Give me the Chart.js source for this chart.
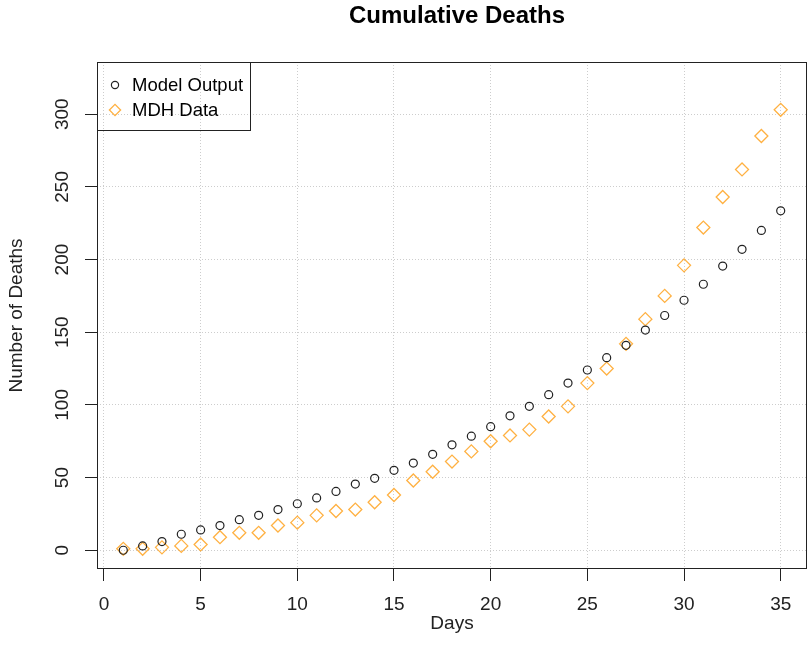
<!DOCTYPE html>
<html>
<head>
<meta charset="utf-8">
<title>Cumulative Deaths</title>
<script src="https://cdn.jsdelivr.net/npm/chart.js@4.4.1/dist/chart.umd.min.js"></script>
<style>
  html, body { margin: 0; padding: 0; background: #fff; }
  canvas { display: block; }
</style>
</head>
<body>
<canvas id="deaths" width="807" height="664"></canvas>
<script>
// Data
const days = [1, 2, 3, 4, 5, 6, 7, 8, 9, 10, 11, 12, 13, 14, 15, 16, 17, 18,
  19, 20, 21, 22, 23, 24, 25, 26, 27, 28, 29, 30, 31, 32, 33, 34, 35];
const modelOutput = [0, 3, 6, 11, 14, 17, 21, 24, 28, 32, 36, 40.5, 45.5, 49.5,
  55, 60, 66, 72.5, 78.5, 85, 92.5, 99, 107, 115, 124, 132.5, 141, 151.5,
  161.5, 172, 183, 195.5, 207, 220, 233.5];
const mdhData = [1, 1, 2, 3, 4, 9, 12, 12, 17, 19, 24, 27, 28, 33, 38, 48, 54,
  61, 68, 75, 79, 83, 92, 99, 115, 125, 142, 159, 175, 196, 222, 243, 262,
  285, 303];
const xTicks = [0, 5, 10, 15, 20, 25, 30, 35];
const yTicks = [0, 50, 100, 150, 200, 250, 300];

const FONT = '"Liberation Sans", Arial, sans-serif';
const INK = '#222';
const ORANGE = '#FFB142';
const GRID = '#cdcdcd';

// box around the plot, title and the legend (R-style base graphics look)
const rDecor = {
  id: 'rDecor',
  afterDraw(chart) {
    const { ctx, chartArea: a } = chart;
    ctx.save();
    ctx.strokeStyle = INK;
    ctx.lineWidth = 1;
    ctx.strokeRect(a.left + 0.5, a.top + 0.5, a.right - a.left - 1, a.bottom - a.top - 1);

    // title
    ctx.fillStyle = '#000';
    ctx.font = 'bold 24px ' + FONT;
    ctx.textAlign = 'center';
    ctx.textBaseline = 'middle';
    ctx.fillText('Cumulative Deaths', (a.left + a.right) / 2 + 5, 16);

    // legend
    const lx = a.left, ly = a.top;
    ctx.strokeRect(lx + 0.5, ly + 0.5, 153, 68);
    ctx.font = '18.5px ' + FONT;
    ctx.textAlign = 'left';
    chart.data.datasets.forEach((ds, i) => {
      const cy = ly + 23 + i * 25;
      ctx.strokeStyle = ds.borderColor;
      ctx.fillStyle = 'rgba(0,0,0,0)';
      ctx.lineWidth = ds.borderWidth;
      Chart.helpers.drawPoint(ctx, {
        pointStyle: ds.pointStyle,
        radius: i === 0 ? 3.6 : 5.6,
        rotation: 0,
        borderWidth: ds.borderWidth
      }, lx + 18, cy);
      ctx.fillStyle = '#000';
      ctx.fillText(ds.label, lx + 35, cy + 1);
    });
    ctx.restore();
  }
};

new Chart(document.getElementById('deaths'), {
  type: 'scatter',
  data: {
    datasets: [
      {
        label: 'Model Output',
        data: days.map((d, i) => ({ x: d, y: modelOutput[i] })),
        pointStyle: 'circle',
        pointRadius: 4,
        borderColor: INK,
        backgroundColor: 'rgba(0,0,0,0)',
        borderWidth: 1.2
      },
      {
        label: 'MDH Data',
        data: days.map((d, i) => ({ x: d, y: mdhData[i] })),
        pointStyle: 'rectRot',
        pointRadius: 6.5,
        borderColor: ORANGE,
        backgroundColor: 'rgba(0,0,0,0)',
        borderWidth: 1.3
      }
    ]
  },
  options: {
    responsive: false,
    animation: false,
    devicePixelRatio: 1,
    events: [],
    layout: {
      autoPadding: false,
      padding: { top: 62, right: 0, bottom: 0, left: 0 }
    },
    plugins: {
      legend: { display: false },
      title: { display: false },
      tooltip: { enabled: false }
    },
    scales: {
      x: {
        type: 'linear',
        min: -0.36,
        max: 36.36,
        afterBuildTicks: axis => { axis.ticks = xTicks.map(v => ({ value: v })); },
        afterFit: axis => {
          axis.height = 95;
          axis.paddingLeft = 0;
          axis.paddingRight = 0;
        },
        grid: {
          color: GRID,
          lineWidth: 1,
          tickLength: 12,
          tickColor: INK,
          tickWidth: 1
        },
        border: { display: false, dash: [1, 2] },
        ticks: {
          color: INK,
          font: { size: 19, family: FONT },
          padding: 12,
          minRotation: 0,
          maxRotation: 0
        },
        title: {
          display: true,
          text: 'Days',
          color: INK,
          font: { size: 19, family: FONT },
          padding: { top: 0, bottom: 28.6 }
        }
      },
      y: {
        type: 'linear',
        min: -12.9,
        max: 335.9,
        afterBuildTicks: axis => { axis.ticks = yTicks.map(v => ({ value: v })); },
        afterFit: axis => {
          axis.width = 97;
          axis.paddingTop = 0;
          axis.paddingBottom = 0;
        },
        grid: {
          color: GRID,
          lineWidth: 1,
          tickLength: 12,
          tickColor: INK,
          tickWidth: 1
        },
        border: { display: false, dash: [1, 2] },
        ticks: {
          color: INK,
          font: { size: 19, family: FONT },
          padding: 6,
          crossAlign: 'center',
          minRotation: 90,
          maxRotation: 90
        },
        title: {
          display: true,
          text: 'Number of Deaths',
          color: INK,
          font: { size: 19, family: FONT },
          padding: { top: 5.6, bottom: 0 }
        }
      }
    }
  },
  plugins: [rDecor]
});
</script>
</body>
</html>
